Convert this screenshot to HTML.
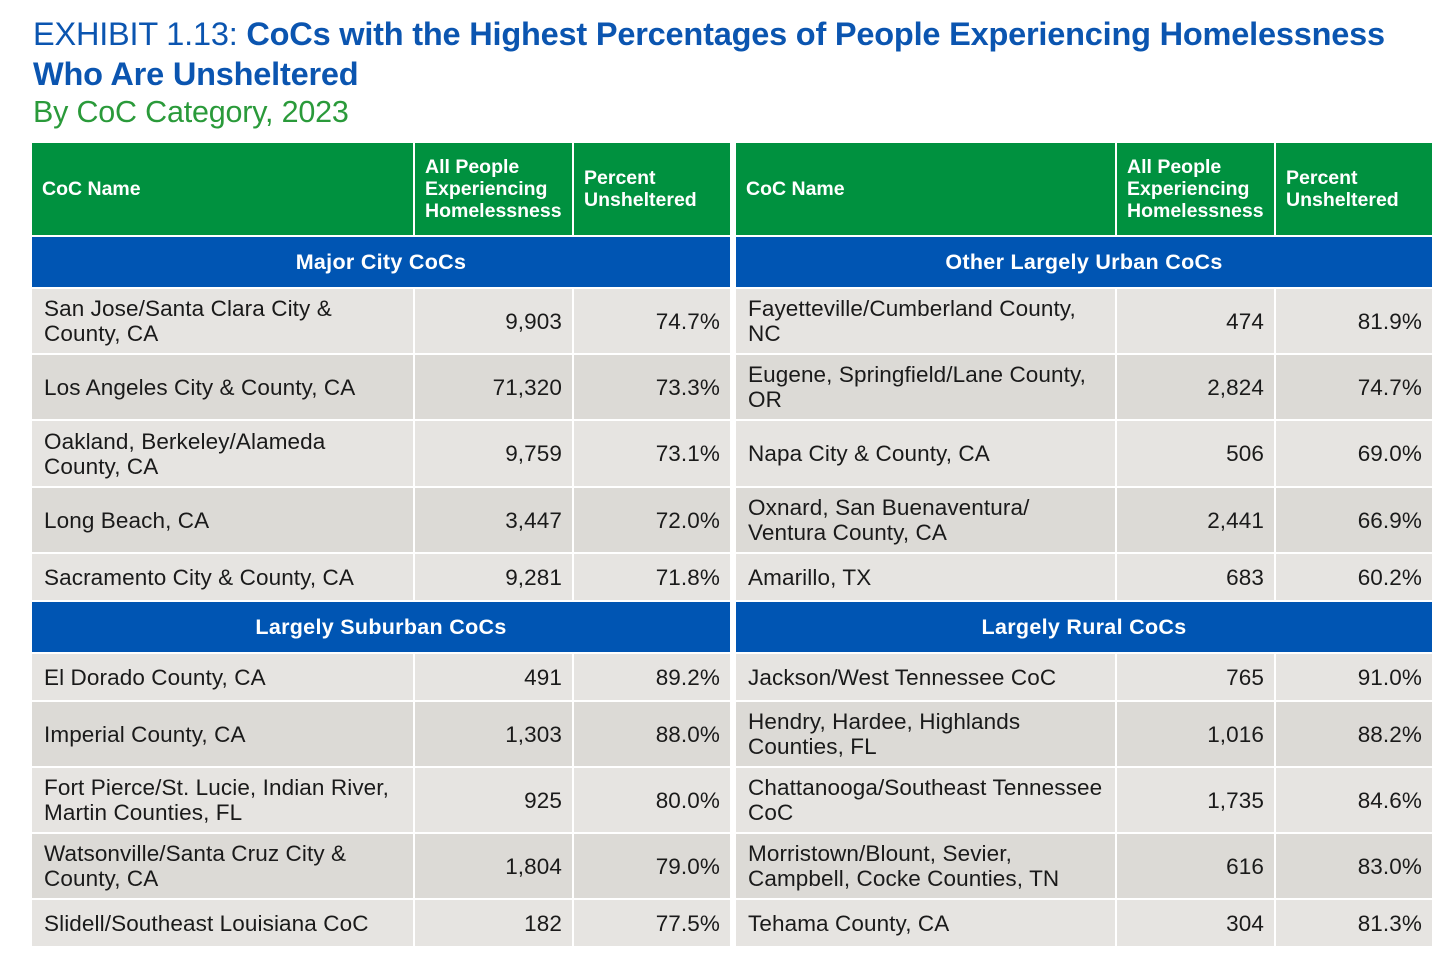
<!DOCTYPE html>
<html><head><meta charset="utf-8"><style>
body{margin:0;width:1456px;height:979px;background:#fff;font-family:"Liberation Sans",sans-serif;position:relative;overflow:hidden}
.t{position:absolute;left:33px;white-space:nowrap}
.c{position:absolute;box-sizing:border-box;display:flex;align-items:center;font-size:22.5px;color:#1a1a1a;line-height:25px;letter-spacing:0.1px}
.h{background:#00913f;color:#fff;font-weight:bold;font-size:19.5px;line-height:22px;padding-left:10px;letter-spacing:0}
.s{background:#0055b3;color:#fff;font-weight:bold;font-size:21.5px;justify-content:center;letter-spacing:0.3px}
.n{justify-content:flex-end;padding-right:10px}
.nm{padding-left:12px}
</style></head><body>
<div class="t" style="top:14px;font-size:32.5px;color:#0b55b0;line-height:40px;letter-spacing:-0.2px">EXHIBIT 1.13: <b>CoCs with the Highest Percentages of People Experiencing Homelessness<br>Who Are Unsheltered</b></div>
<div class="t" style="top:95px;font-size:30.5px;color:#2a9a3a;letter-spacing:-0.2px">By CoC Category, 2023</div>
<div id="tbl"></div>
<script>
const sections=[["Major City CoCs","Other Largely Urban CoCs"],["Largely Suburban CoCs","Largely Rural CoCs"]];
const leftNames=[["San Jose/Santa Clara City &<br>County, CA","Los Angeles City & County, CA","Oakland, Berkeley/Alameda<br>County, CA","Long Beach, CA","Sacramento City & County, CA"],["El Dorado County, CA","Imperial County, CA","Fort Pierce/St. Lucie, Indian River,<br>Martin Counties, FL","Watsonville/Santa Cruz City &<br>County, CA","Slidell/Southeast Louisiana CoC"]];
const leftCounts=[["9,903","71,320","9,759","3,447","9,281"],["491","1,303","925","1,804","182"]];
const leftPct=[["74.7%","73.3%","73.1%","72.0%","71.8%"],["89.2%","88.0%","80.0%","79.0%","77.5%"]];
const rightNames=[["Fayetteville/Cumberland County,<br>NC","Eugene, Springfield/Lane County,<br>OR","Napa City & County, CA","Oxnard, San Buenaventura/<br>Ventura County, CA","Amarillo, TX"],["Jackson/West Tennessee CoC","Hendry, Hardee, Highlands<br>Counties, FL","Chattanooga/Southeast Tennessee<br>CoC","Morristown/Blount, Sevier,<br>Campbell, Cocke Counties, TN","Tehama County, CA"]];
const rightCounts=[["474","2,824","506","2,441","683"],["765","1,016","1,735","616","304"]];
const rightPct=[["81.9%","74.7%","69.0%","66.9%","60.2%"],["91.0%","88.2%","84.6%","83.0%","81.3%"]];
const rowTops=[[289,355,421,488,554],[654,702,768,834,900]];
const rowBots=[[353,419,486,552,600],[700,766,832,898,946]];
const secTops=[237,602];
const cols=[[32,415,574,730],[736,1117,1276,1432]];
const tbl=document.getElementById('tbl');
function cell(x,y,w,h,cls,html,bg){const d=document.createElement('div');d.className='c '+cls;d.style.left=x+'px';d.style.top=y+'px';d.style.width=w+'px';d.style.height=h+'px';if(bg)d.style.background=bg;d.innerHTML=html;tbl.appendChild(d);return d;}
const heads=["CoC Name","All People<br>Experiencing<br>Homelessness","Percent<br>Unsheltered"];
for(let side=0;side<2;side++){
  const cx=cols[side];
  for(let k=0;k<3;k++){
    const d=cell(cx[k],143,cx[k+1]-cx[k]-(k<2?2:0),92,'h',heads[k]);
    
    
  }
  const names=side?rightNames:leftNames,counts=side?rightCounts:leftCounts,pct=side?rightPct:leftPct;
  for(let s=0;s<2;s++){
    const sh=cell(cx[0],secTops[s],cx[3]-cx[0],50,'s',sections[s][side]);
    
    
    for(let r=0;r<5;r++){
      const y=rowTops[s][r],h=rowBots[s][r]-y,bg=r%2?'#dcdad6':'#e6e4e1';
      const a=cell(cx[0],y,cx[1]-cx[0]-2,h,'nm',names[s][r],bg);
      
      
      const b=cell(cx[1],y,cx[2]-cx[1]-2,h,'n',counts[s][r],bg);
      
      
      const c=cell(cx[2],y,cx[3]-cx[2],h,'n',pct[s][r],bg);
      
      
    }
  }
}
</script>
</body></html>
